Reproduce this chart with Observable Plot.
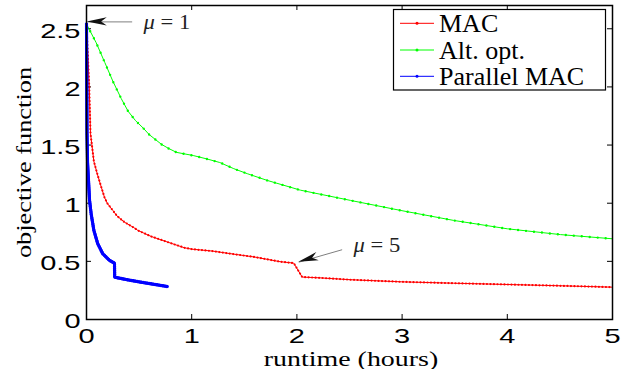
<!DOCTYPE html>
<html>
<head>
<meta charset="utf-8">
<script src="https://cdn.jsdelivr.net/npm/d3@7"></script>
<script src="https://cdn.jsdelivr.net/npm/@observablehq/plot@0.6"></script>
<style>
  html, body { margin: 0; padding: 0; background: white; }
  #chart { width: 634px; height: 369px; }
</style>
</head>
<body>
<div id="chart"></div>
<script>
// ---- data (runtime in hours, objective value) ----
const seriesNames = ["MAC", "Alt. opt.", "Parallel MAC"];
const seriesColors = ["#ff0000", "#00ff00", "#0000ff"];

const macData = [
  [0, 2.54], [0.026, 2.0], [0.038, 1.60], [0.07, 1.36], [0.10, 1.26], [0.133, 1.16],
  [0.171, 1.05], [0.197, 1.0], [0.25, 0.938], [0.29, 0.89], [0.361, 0.837], [0.45, 0.79],
  [0.488, 0.766], [0.615, 0.714], [0.773, 0.665], [0.93, 0.617], [1.0, 0.605], [1.2, 0.588],
  [1.4, 0.562], [1.6, 0.537], [1.84, 0.497], [1.97, 0.485], [2.05, 0.365], [2.22, 0.358],
  [2.51, 0.342], [2.99, 0.324], [3.49, 0.312], [4.0, 0.301], [4.5, 0.29], [5.0, 0.278]
];
const altData = [
  [0, 2.54], [0.092, 2.38], [0.174, 2.21], [0.25, 2.05], [0.33, 1.90], [0.396, 1.79],
  [0.466, 1.71], [0.539, 1.646], [0.596, 1.59], [0.713, 1.506], [0.782, 1.47], [0.856, 1.437],
  [1.014, 1.41], [1.147, 1.38], [1.267, 1.35], [1.40, 1.297], [1.528, 1.254], [1.718, 1.196],
  [1.94, 1.137], [2.034, 1.112], [2.51, 1.024], [2.985, 0.938], [3.49, 0.852], [4.0, 0.78],
  [4.506, 0.73], [5.0, 0.694]
];
const parData = [
  [0, 2.54], [0.003, 2.0], [0.005, 1.6], [0.01, 1.35], [0.019, 1.196], [0.029, 1.024],
  [0.044, 0.91], [0.07, 0.766], [0.107, 0.651], [0.155, 0.565], [0.219, 0.508], [0.266, 0.485],
  [0.268, 0.364], [0.4, 0.34], [0.52, 0.321], [0.767, 0.284]
];

const xTicks = [0, 1, 2, 3, 4, 5];
const yTicks = [0, 0.5, 1, 1.5, 2, 2.5];
const xLabel = "runtime (hours)";
const yLabel = "objective function";

// annotation arrows (data units): tip, tail, text position
const annotations = [
  {mu: "1", tipX: 0.007, tipY: 2.559, tailX: 0.434, tailY: 2.559, textX: 0.542, textY: 2.559},
  {mu: "5", tipX: 2.018, tipY: 0.493, tailX: 2.43, tailY: 0.60, textX: 2.538, textY: 0.645}
];

// ---- chart ----
const W = 634, H = 369, mL = 86, mR = 22, mT = 5, mB = 50;
const plotW = W - mL - mR, plotH = H - mT - mB;
const tickLen = 5;
const serif = "'Liberation Serif', 'Times New Roman', serif";

const lineMarks = (data, color, dotGap, dotW, lw) => [
  Plot.line(data, {x: d => d[0], y: d => d[1], stroke: color, strokeWidth: lw}),
  Plot.line(data, {x: d => d[0], y: d => d[1], stroke: color, strokeWidth: dotW,
    strokeDasharray: `0,${dotGap}`, strokeLinecap: "round"})
];

const chart = Plot.plot({
  width: W, height: H,
  marginLeft: mL, marginRight: mR, marginTop: mT, marginBottom: mB,
  x: {domain: [0, 5]},
  y: {domain: [0, 2.7]},
  style: {fontFamily: "'Liberation Sans', Arial, sans-serif", background: "white", overflow: "visible"},
  marks: [
    // inward ticks on all four sides
    Plot.ruleX(xTicks, {x: d => d, insetTop: plotH - tickLen, stroke: "black", strokeWidth: 1}),
    Plot.ruleX(xTicks, {x: d => d, insetBottom: plotH - tickLen, stroke: "black", strokeWidth: 1}),
    Plot.ruleY(yTicks, {y: d => d, insetRight: plotW - tickLen, stroke: "black", strokeWidth: 1}),
    Plot.ruleY(yTicks, {y: d => d, insetLeft: plotW - tickLen, stroke: "black", strokeWidth: 1}),
    Plot.axisX({ticks: xTicks, tickSize: 0, tickPadding: 9, fontSize: 20, label: null,
      tickFormat: d => String(d), fill: "black"}),
    Plot.axisY({ticks: yTicks, tickSize: 0, tickPadding: 6, fontSize: 20, label: null,
      tickFormat: d => String(d), dy: 2.5, fill: "black"}),
    ...lineMarks(macData, seriesColors[0], 3.5, 2.2, 1),
    ...lineMarks(altData, seriesColors[1], 8, 2.4, 1),
    ...lineMarks(parData, seriesColors[2], 2, 3.4, 3),
    Plot.frame({stroke: "black", strokeWidth: 1.5}),
    // annotations
    Plot.link(annotations, {x1: "tailX", y1: "tailY", x2: "tipX", y2: "tipY", stroke: "#7f7f7f", strokeWidth: 1}),
    Plot.text(annotations, {x: "textX", y: "textY", text: d => "\u03bc = " + d.mu, textAnchor: "start",
      lineAnchor: "middle", fontSize: 20, fontFamily: serif, fill: "#222", dy: 1}),
    // axis labels
    Plot.text([xLabel], {frameAnchor: "bottom", text: d => d, dy: 46, dx: 1.5, lineAnchor: "bottom",
      textAnchor: "middle", fontSize: 22, fontFamily: serif, fill: "black"}),
    Plot.text([yLabel], {frameAnchor: "left", text: d => d, dx: -56, rotate: -90, lineAnchor: "bottom",
      textAnchor: "middle", fontSize: 20, fontFamily: serif, fill: "black"})
  ]
});
document.getElementById("chart").appendChild(chart);

// ---- horizontal stretching of text (as in the reference rendering) ----
function stretchEl(el, sx) {
  const t = el.getAttribute("transform");
  if (t) {
    el.setAttribute("transform", t + ` scale(${sx},1)`);
  } else {
    const x = parseFloat(el.getAttribute("x")) || 0;
    el.setAttribute("transform", `translate(${x},0) scale(${sx},1) translate(${-x},0)`);
  }
}
const svg = d3.select(chart);
svg.selectAll("text").each(function () {
  const s = this.textContent;
  if (/^[0-9.]+$/.test(s)) stretchEl(this, 1.45);
  else if (s === xLabel) stretchEl(this, 1.27);
  else if (s === yLabel) stretchEl(this, 1.32);
  else if (s.startsWith("\u03bc")) {
    const rest = s.slice(1);
    this.textContent = "";
    d3.select(this).append("tspan").attr("font-style", "italic").text("\u03bc");
    d3.select(this).append("tspan").text(rest);
    stretchEl(this, 1.13);
  }
});

// arrowheads via the chart's scales
const sx = chart.scale("x"), sy = chart.scale("y");
annotations.forEach(a => {
  const tx = sx.apply(a.tipX), ty = sy.apply(a.tipY);
  const bx = sx.apply(a.tailX), by = sy.apply(a.tailY);
  let ux = tx - bx, uy = ty - by;
  const len = Math.hypot(ux, uy); ux /= len; uy /= len;
  const nx = -uy, ny = ux, L = 20, hw = 4.2;
  const p = [
    [tx, ty],
    [tx - L * ux + hw * nx, ty - L * uy + hw * ny],
    [tx - 0.72 * L * ux, ty - 0.72 * L * uy],
    [tx - L * ux - hw * nx, ty - L * uy - hw * ny]
  ];
  svg.append("path").attr("d", "M" + p.map(q => q.join(",")).join("L") + "Z")
    .attr("fill", "#111").attr("stroke", "none");
});

// ---- legend (inside the axes, top right) ----
const lg = svg.append("g").attr("font-family", serif).attr("text-anchor", "start");
lg.append("rect").attr("x", 393.5).attr("y", 9.5).attr("width", 212).attr("height", 80.5)
  .attr("fill", "white").attr("stroke", "black").attr("stroke-width", 1.2);
const rowY = [23.3, 50, 76.3];
seriesNames.forEach((name, i) => {
  const y = rowY[i];
  lg.append("line").attr("x1", 400).attr("x2", 434).attr("y1", y).attr("y2", y)
    .attr("stroke", seriesColors[i]).attr("stroke-width", 1);
  lg.append("circle").attr("cx", 417).attr("cy", y).attr("r", 1.5).attr("fill", seriesColors[i]);
  lg.append("text").attr("x", 439).attr("y", y + 8.6).attr("font-size", 26)
    .attr("text-anchor", "start").attr("fill", "black").text(name);
});
</script>
</body>
</html>
